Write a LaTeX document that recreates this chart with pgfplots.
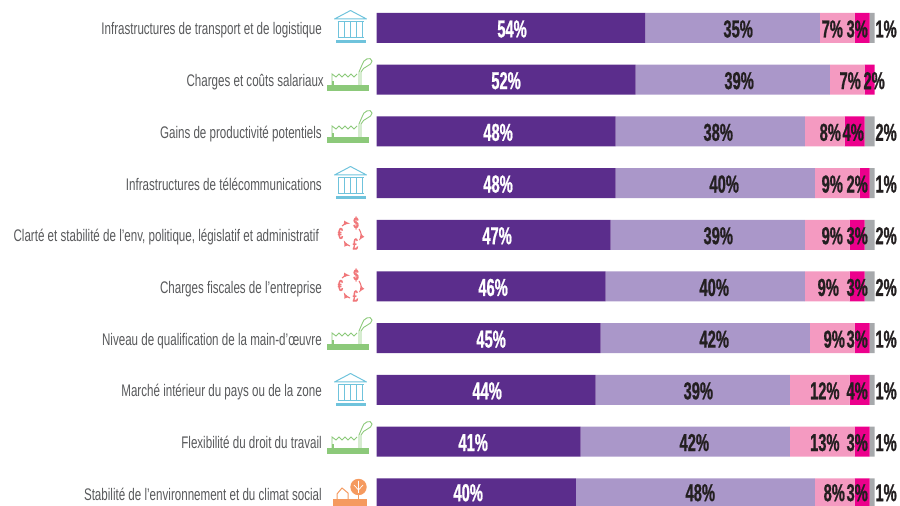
\documentclass[border=0pt]{standalone}
\usepackage{pgfplots}
\usepackage{fontspec}
\pgfplotsset{compat=1.18}
\setmainfont[FakeStretch=0.69]{Liberation Sans}
\newfontfamily\valfont[FakeStretch=0.6,FakeBold=0.8]{Liberation Sans Bold}
\definecolor{cA}{HTML}{5B2D8C}
\definecolor{cB}{HTML}{AA97C9}
\definecolor{cC}{HTML}{F49AC1}
\definecolor{cD}{HTML}{EC008C}
\definecolor{cE}{HTML}{A7A9AC}
\definecolor{txt}{HTML}{58595B}
\definecolor{val}{HTML}{231F20}
\definecolor{bank}{HTML}{6FC3DC}
\definecolor{fact}{HTML}{8CC97A}
\definecolor{money}{HTML}{F0777A}
\definecolor{env}{HTML}{F59A5F}
\pgfplotstableread{
y a b c d e
0 54 35 7 3 1
1 52 39 7 2 0
2 48 38 8 4 2
3 48 40 9 2 1
4 47 39 9 3 2
5 46 40 9 3 2
6 45 42 9 3 1
7 44 39 12 4 1
8 41 42 13 3 1
9 40 48 8 3 1
}\bars
\pgfplotstableread{
x y l
27.2 0 54\%
26.0 1 52\%
24.4 2 48\%
24.4 3 48\%
24.2 4 47\%
23.4 5 46\%
23.0 6 45\%
22.2 7 44\%
19.4 8 41\%
18.4 8.97 40\%
}\whitelabels
\pgfplotstableread{
x y l
72.6 0 35\%
91.5 0 7\%
96.5 0 3\%
102.3 0 1\%
72.8 1 39\%
95.1 1 7\%
99.9 1 2\%
68.6 2 38\%
91.1 2 8\%
95.7 2 4\%
102.3 2 2\%
69.8 3 40\%
91.5 3 9\%
96.5 3 2\%
102.3 3 1\%
68.6 4 39\%
91.5 4 9\%
96.5 4 3\%
102.3 4 2\%
67.8 5 40\%
90.7 5 9\%
96.5 5 3\%
102.3 5 2\%
67.8 6 42\%
91.9 6 9\%
96.5 6 3\%
102.3 6 1\%
64.6 7 39\%
90.0 7 12\%
96.5 7 4\%
102.3 7 1\%
63.8 8 42\%
90.0 8 13\%
96.5 8 3\%
102.3 8 1\%
65.0 8.97 48\%
91.9 8.97 8\%
96.5 8.97 3\%
102.3 8.97 1\%
}\darklabels
\pgfplotsset{common/.style={
  scale only axis, width=900pt, height=506pt,
  xmin=-75.6, xmax=105.1, ymin=-0.5416, ymax=9.246,
  y dir=reverse, axis line style={draw=none},
  major tick length=0pt, xtick=\empty,
  anchor=south west, at={(0pt,0pt)}}}
\newcommand\bankicon[1]{\begin{scope}[shift={(350.5pt,#1pt)},bank,line width=1pt]
 \draw[line join=round] (-16,9) -- (0,17.5) -- (16,9) -- cycle;
 \draw (-13,6) -- (13,6);
 \foreach \i in {-12,-6,0,6,12}{\draw (\i,6) -- (\i,-10);}
 \draw (-13,-10) -- (13,-10);
 \fill (-15,-15) rectangle (15,-12);
\end{scope}}
\newcommand\facticon[1]{\begin{scope}[shift={(348pt,#1pt)},fact,line width=0.9pt]
 \fill (-21,-11) rectangle (21,-5);
 \draw (-16,-5) -- (-16,6) -- (-12,3) -- (-9,6) -- (-6,3) -- (-3,6) -- (0,3) -- (3,6) -- (6,3) -- (9,6);
 \draw[line width=1.6pt] (-15,-5) -- (-15,-1);
 \draw (11,-5) -- (11,8) -- (14,15) .. controls (15,21) and (23,24) .. (24,19) .. controls (24,14) and (15,14) .. (13,8) -- (13,-5);
\end{scope}}
\newcommand\moneyicon[1]{\begin{scope}[shift={(350pt,#1pt)},money,line width=1.1pt]
 \draw[-latex] (-8,9) arc (130:85:11);
 \draw[-latex] (9,6) arc (35:-35:10);
 \draw[-latex] (0,-11) arc (250:205:11);
 \node[font=\valfont\fontsize{16}{16}\selectfont,inner sep=0] at (6,12) {\$};
 \node[font=\valfont\fontsize{16}{16}\selectfont,inner sep=0] at (-9.5,1.5) {€};
 \node[font=\valfont\fontsize{16}{16}\selectfont,inner sep=0] at (5.5,-9) {£};
\end{scope}}
\newcommand\envicon[1]{\begin{scope}[shift={(350pt,#1pt)},env,line width=1pt]
 \fill (-17,-16) rectangle (17,-5);
 \draw (-13,-5) -- (-13,0) -- (-8,6) -- (-2,1) -- (-2,-5);
 \fill (8.5,7) circle (8.2);
 \draw[white,line width=0.7pt] (8.5,0) -- (8.5,7) (8.5,4) -- (4,9) (8.5,4) -- (13,9) (8.5,7) -- (8.5,13);
 \draw[line width=1.8pt] (8.5,1) -- (8.5,-5);
\end{scope}}
\begin{document}
\begin{tikzpicture}[x=1pt,y=1pt]
\path[use as bounding box] (0,0) rectangle (900,506);
\clip (0,0) rectangle (900,506);
\begin{axis}[common,
  xbar stacked, bar width=30pt, ytick={0,...,9},
  yticklabels={Infrastructures de transport et de logistique,
    Charges et coûts salariaux\hspace*{-2pt},
    Gains de productivité potentiels,
    Infrastructures de télécommunications,
    {Clarté et stabilité de l'env, politique, législatif et administratif\hspace*{3pt}},
    Charges fiscales de l'entreprise,
    Niveau de qualification de la main-d'œuvre,
    Marché intérieur du pays ou de la zone,
    Flexibilité du droit du travail,
    Stabilité de l'environnement et du climat social},
  yticklabel style={anchor=base east, xshift=322pt, yshift=-7pt, text=txt, inner sep=0pt,
    font=\fontsize{16.8}{18}\selectfont},
  /pgf/number format/assume math mode=true]
\addplot[fill=cA,draw=none] table[x=a,y=y]{\bars};
\addplot[fill=cB,draw=none] table[x=b,y=y]{\bars};
\addplot[fill=cC,draw=none] table[x=c,y=y]{\bars};
\addplot[fill=cD,draw=none] table[x=d,y=y]{\bars};
\addplot[fill=cE,draw=none] table[x=e,y=y]{\bars};
\end{axis}
\begin{axis}[common, hide axis, clip=false]
\addplot[only marks, mark=none, point meta=explicit symbolic,
  nodes near coords, every node near coord/.style={anchor=center,text=white,inner sep=0,yshift=-1pt,
  font=\valfont\fontsize{24.5}{25}\selectfont}]
  table[x=x,y=y,meta=l]{\whitelabels};
\addplot[only marks, mark=none, point meta=explicit symbolic,
  nodes near coords, every node near coord/.style={anchor=center,text=val,inner sep=0,yshift=-1pt,
  font=\valfont\fontsize{24.5}{25}\selectfont}]
  table[x=x,y=y,meta=l]{\darklabels};
\end{axis}
\bankicon{478}
\facticon{426}
\facticon{374}
\bankicon{322}
\moneyicon{271}
\moneyicon{219}
\facticon{167}
\bankicon{115}
\facticon{63}
\envicon{12}
\end{tikzpicture}
\end{document}
